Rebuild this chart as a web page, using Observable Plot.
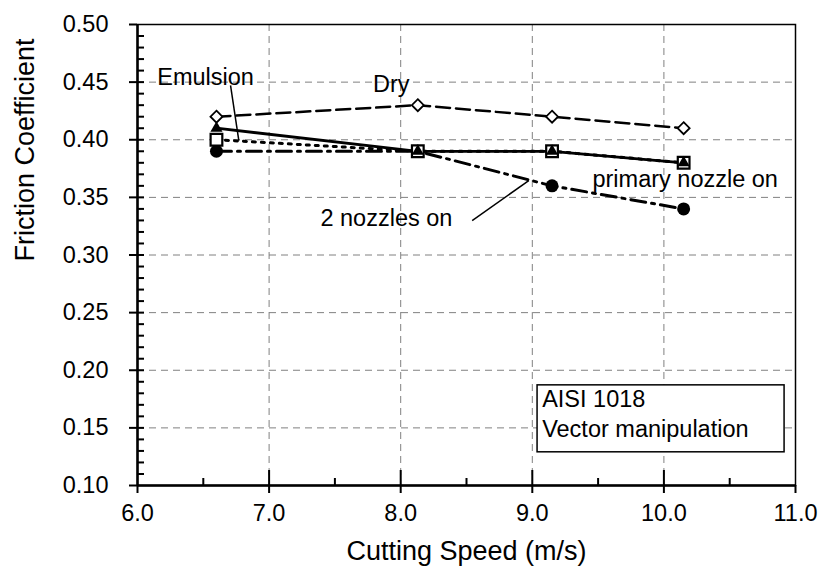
<!DOCTYPE html>
<html>
<head>
<meta charset="utf-8">
<script src="https://cdn.jsdelivr.net/npm/d3@7"></script>
<script src="https://cdn.jsdelivr.net/npm/@observablehq/plot@0.6"></script>
<style>
  html, body { margin: 0; padding: 0; background: #fff; }
  #chart svg { display: block; }
</style>
</head>
<body>
<div id="chart"></div>
<script>
// ---- data ----
const speeds = [6.6, 8.13, 9.15, 10.15];
const dry = [0.42, 0.43, 0.42, 0.41];
const primaryNozzle = [0.41, 0.39, 0.39, 0.38];
const emulsion = [0.40, 0.39, 0.39, 0.38];
const twoNozzles = [0.39, 0.39, 0.36, 0.34];

const xTicks = [6, 7, 8, 9, 10, 11];
const xGrid = [7, 8, 9, 10];
const xMinor = [6.5, 7.5, 8.5, 9.5, 10.5];
const yTicks = [0.10, 0.15, 0.20, 0.25, 0.30, 0.35, 0.40, 0.45, 0.50];
const yGrid = [0.15, 0.20, 0.25, 0.30, 0.35, 0.40, 0.45];
const yMinor = d3.range(11, 50).map(d => d / 100);

const xTitle = "Cutting Speed (m/s)";
const yTitle = "Friction Coefficient";

// annotation labels (data coordinates of their anchor)
const labelText = ["Emulsion", "Dry", "primary nozzle on", "2 nozzles on"];
const labelX = [6.15, 7.79, 9.457, 7.39];
const labelY = [0.4544, 0.4478, 0.3653, 0.3321];

// pointer lines
const pointerX1 = [6.707, 8.543];
const pointerY1 = [0.4471, 0.3299];
const pointerX2 = [6.770, 8.973];
const pointerY2 = [0.3993, 0.3646];

// info box
const boxLines = ["AISI 1018", "Vector manipulation"];
const boxLineY = [0.175, 0.1482];
const boxX1 = 9.04, boxX2 = 10.917, boxY1 = 0.1288, boxY2 = 0.1869, boxTextX = 9.075;

const rows = (values) => speeds.map((x, i) => ({x, y: values[i]}));
const labels = labelText.map((t, i) => ({t, x: labelX[i], y: labelY[i]}));
const pointers = pointerX1.map((x1, i) => ({x1, y1: pointerY1[i], x2: pointerX2[i], y2: pointerY2[i]}));
const boxText = boxLines.map((t, i) => ({t, x: boxTextX, y: boxLineY[i]}));

const FONT = "'Liberation Sans', Arial, Helvetica, sans-serif";
const gridStyle = {stroke: "#808080", strokeOpacity: 1, strokeWidth: 1, strokeDasharray: "7,5"};

const W = 821, H = 582, ML = 137, MR = 26, MT = 24, MB = 97;
const frameW = W - ML - MR, frameH = H - MT - MB;

const chart = Plot.plot({
  width: W,
  height: H,
  marginLeft: ML,
  marginRight: MR,
  marginTop: MT,
  marginBottom: MB,
  style: {fontFamily: FONT, background: "#fff", color: "#000"},
  x: {domain: [6, 11]},
  y: {domain: [0.1, 0.5]},
  marks: [
    Plot.gridX(xGrid, gridStyle),
    Plot.gridY(yGrid, gridStyle),
    Plot.frame({stroke: "#000", strokeWidth: 1.5}),
    // series lines
    Plot.line(rows(dry), {x: "x", y: "y", stroke: "#000", strokeWidth: 2.5, strokeDasharray: "14,6"}),
    Plot.line(rows(emulsion), {x: "x", y: "y", stroke: "#000", strokeWidth: 3, strokeDasharray: "3,6"}),
    Plot.line(rows(twoNozzles), {x: "x", y: "y", stroke: "#000", strokeWidth: 3, strokeDasharray: "15,6,3,6"}),
    Plot.line(rows(primaryNozzle), {x: "x", y: "y", stroke: "#000", strokeWidth: 2.8}),
    // markers
    Plot.dot(rows(dry), {x: "x", y: "y", symbol: "diamond2", r: 5.4, stroke: "#000", fill: "#fff", strokeWidth: 1.8}),
    Plot.dot(rows(twoNozzles), {x: "x", y: "y", symbol: "circle", r: 6.5, fill: "#000", stroke: "none"}),
    Plot.dot(rows(emulsion), {x: "x", y: "y", symbol: "square", r: 6.6, fill: "#fff", stroke: "#000", strokeWidth: 2.2}),
    Plot.dot(rows(primaryNozzle), {x: "x", y: "y", symbol: "triangle", r: 4.5, fill: "#000", stroke: "none"}),
    // pointers & annotations
    Plot.link(pointers, {x1: "x1", y1: "y1", x2: "x2", y2: "y2", stroke: "#000", strokeWidth: 1.5}),
    Plot.text(labels, {x: "x", y: "y", text: "t", textAnchor: "start", fontSize: 23.5, fill: "#000"}),
    // info box
    Plot.rect([{x1: boxX1, x2: boxX2, y1: boxY1, y2: boxY2}], {x1: "x1", x2: "x2", y1: "y1", y2: "y2", fill: "#fff", stroke: "#000", strokeWidth: 1.5}),
    Plot.text(boxText, {x: "x", y: "y", text: "t", textAnchor: "start", fontSize: 23.5, fill: "#000"}),
    // tick marks (major outward, minor inward)
    Plot.tickY(yTicks, {y: d => d, stroke: "#000", strokeWidth: 2, insetLeft: -8, insetRight: frameW}),
    Plot.tickY(yMinor, {y: d => d, stroke: "#000", strokeWidth: 2, insetRight: frameW - 7}),
    Plot.tickX(xTicks, {x: d => d, stroke: "#000", strokeWidth: 2, insetTop: frameH, insetBottom: -8}),
    Plot.tickX(xGrid, {x: d => d, stroke: "#000", strokeWidth: 2, insetTop: frameH - 15}),
    Plot.tickX(xMinor, {x: d => d, stroke: "#000", strokeWidth: 2, insetTop: frameH - 7}),
    // tick labels
    Plot.axisY(yTicks, {anchor: "left", tickSize: 0, tickPadding: 29, tickFormat: d3.format(".2f"), fontSize: 23.5, label: null}),
    Plot.axisX(xTicks, {anchor: "bottom", tickSize: 0, tickPadding: 19, tickFormat: d3.format(".1f"), fontSize: 23.5, label: null}),
    Plot.ruleX([6], {stroke: "#000", strokeWidth: 2.5}),
    Plot.ruleY([0.1], {stroke: "#000", strokeWidth: 2.5}),
    // axis titles
    Plot.text([yTitle], {frameAnchor: "left", dx: -112, dy: 6.5, rotate: -90, fontSize: 27, fill: "#000"}),
    Plot.text([xTitle], {frameAnchor: "bottom", dy: 74.4, fontSize: 27, fill: "#000"})
  ]
});
document.getElementById("chart").appendChild(chart);
</script>
</body>
</html>
